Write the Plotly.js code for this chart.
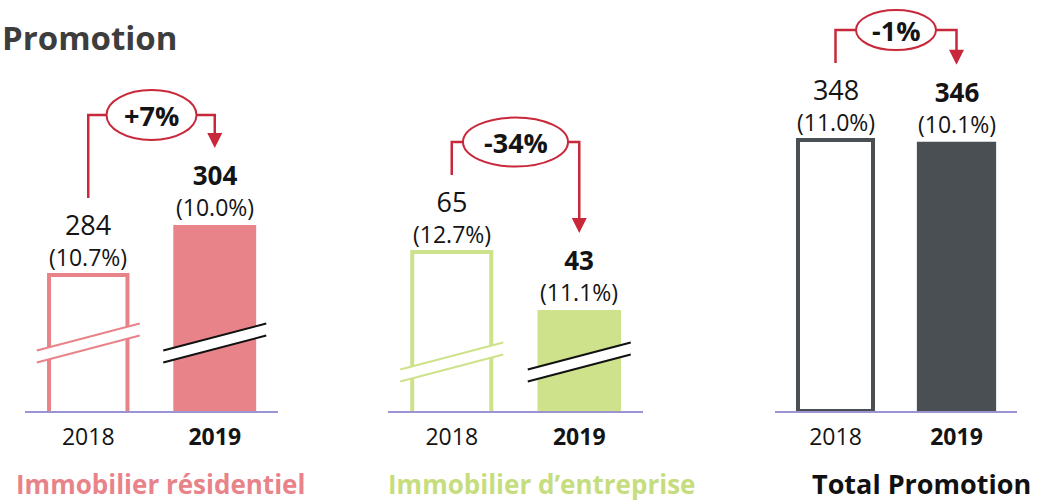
<!DOCTYPE html>
<html><head><meta charset="utf-8">
<script src="https://cdn.plot.ly/plotly-3.0.1.min.js"></script>
<style>html,body{margin:0;padding:0;background:#fff}#chart{width:1042px;height:503px}</style>
</head><body><div id="chart"></div>
<script>
// ---- data ----
const years = ['2018', '2019'];
const yearLabels = ['2018', '<b>2019</b>'];
const residentiel = [284, 304];
const residentielPct = ['(10.7%)', '(10.0%)'];
const entreprise = [65, 43];
const entreprisePct = ['(12.7%)', '(11.1%)'];
const totalPromotion = [348, 346];
const totalPct = ['(11.0%)', '(10.1%)'];
const changes = ['+7%', '-34%', '-1%'];
const panelNames = ['Immobilier résidentiel', 'Immobilier d’entreprise', 'Total Promotion'];
const mainTitle = 'Promotion';

// ---- styles / layout ----
const W = 1042, H = 503, MB = 92, PH = H - MB;
const RED = '#C8283A', AXIS = '#9A95D2', INK = '#141414';
const FONT = 'Open Sans, Noto Sans, sans-serif';
const panels = [
  {vals: residentiel, pcts: residentielPct, color: '#E8838A', titleColor: '#E8838A', titleSize: 26,
   dom: [25, 278], range: [229.6, 394], brk: 68, ell: [90, 50], titleX: 160},
  {vals: entreprise, pcts: entreprisePct, color: '#CDE28A', titleColor: '#C6DD7E', titleSize: 26,
   dom: [388, 643], range: [4.7, 160.6], brk: 49, ell: [105, 49], titleX: 541.5},
  {vals: totalPromotion, pcts: totalPct, color: '#4A4F53', titleColor: '#111111', titleSize: 27,
   dom: [775, 1017], range: [0, 528], brk: null, ell: [80, 40], titleX: 921.5}
];

const traces = [], shapes = [], annotations = [];
const layout = {
  width: W, height: H, margin: {l: 0, r: 0, t: 0, b: MB},
  paper_bgcolor: '#fff', plot_bgcolor: 'rgba(0,0,0,0)', showlegend: false,
  font: {family: FONT, color: INK}
};

panels.forEach((p, i) => {
  const sfx = i ? String(i + 1) : '';
  const xr = 'x' + sfx, yr = 'y' + sfx;
  layout['xaxis' + sfx] = {
    domain: [p.dom[0] / W, p.dom[1] / W], anchor: yr, type: 'category',
    range: [-0.5, 1.5], showline: true, linecolor: AXIS, linewidth: 2,
    ticks: '', tickmode: 'array', tickvals: years, ticktext: yearLabels,
    ticklabelstandoff: 4,
    tickfont: {family: FONT, size: 23, color: INK}, showgrid: false, zeroline: false,
    fixedrange: true
  };
  layout['yaxis' + sfx] = {
    domain: [0, 1], anchor: xr, range: p.range, visible: false,
    showgrid: false, zeroline: false, fixedrange: true
  };
  traces.push({
    type: 'bar', x: years, y: p.vals,
    xaxis: xr, yaxis: yr, width: [0.62, 0.655],
    marker: {color: ['#ffffff', p.color], line: {color: p.color, width: [4, 0]}},
    hoverinfo: 'skip'
  });

  const ppu = PH / (p.range[1] - p.range[0]);
  const catPx = (p.dom[1] - p.dom[0]) / 2;
  const Y = (v, d) => v + d / ppu;
  const X = (c, d) => c + d / catPx;
  const v0 = p.vals[0], v1 = p.vals[1];

  // value labels (value + share on two lines)
  p.vals.forEach((v, c) => {
    const num = c ? '<b>' + v + '</b>' : String(v);
    annotations.push({xref: xr, yref: yr, x: c, y: v, yanchor: 'bottom', yshift: 0,
      text: `<span style="font-size:${c ? 26 : 27}px">${num}</span><br>` +
            `<span style="font-size:23px">${p.pcts[c]}</span>`,
      showarrow: false, font: {family: FONT, size: 24, color: INK}});
  });

  // change connector
  const lev = Y(Math.max(v0, v1), 110);
  const eh = p.ell[0] / 2, ev = p.ell[1] / 2;
  const ln = {color: RED, width: 2.5};
  shapes.push({type: 'path', xref: xr, yref: yr, line: ln,
    path: `M 0,${Y(v0, 77)} L 0,${lev} L ${X(0.5, -eh)},${lev}`});
  shapes.push({type: 'path', xref: xr, yref: yr, line: ln,
    path: `M ${X(0.5, eh)},${lev} L 1,${lev} L 1,${Y(v1, 91)}`});
  shapes.push({type: 'path', xref: xr, yref: yr, line: {width: 0}, fillcolor: RED,
    path: `M ${X(1, -7.5)},${Y(v1, 92)} L ${X(1, 7.5)},${Y(v1, 92)} L 1,${Y(v1, 77)} Z`});
  shapes.push({type: 'circle', xref: xr, yref: yr, line: {color: RED, width: 2}, fillcolor: '#fff',
    x0: X(0.5, -eh), x1: X(0.5, eh), y0: lev - ev / ppu, y1: lev + ev / ppu});
  annotations.push({xref: xr, yref: yr, x: 0.5, y: lev, yanchor: 'middle',
    text: '<b>' + changes[i] + '</b>', showarrow: false,
    font: {family: FONT, size: 27, color: INK}});

  // axis break marks
  if (p.brk !== null) {
    const mid = p.range[0] + p.brk / ppu;
    [0, 1].forEach(c => {
      const pts = [[-51.5, -7.5], [51.5, 19.5], [51.5, 7.5], [-51.5, -19.5]];
      const P = pts.map(q => `${X(c, q[0])},${Y(mid, q[1])}`);
      shapes.push({type: 'path', xref: xr, yref: yr, line: {width: 0}, fillcolor: '#fff',
        path: `M ${P[0]} L ${P[1]} L ${P[2]} L ${P[3]} Z`});
      const lc = {color: c ? '#111' : p.color, width: 2};
      shapes.push({type: 'path', xref: xr, yref: yr, line: lc, path: `M ${P[0]} L ${P[1]}`});
      shapes.push({type: 'path', xref: xr, yref: yr, line: lc, path: `M ${P[3]} L ${P[2]}`});
    });
  }

  // panel title
  annotations.push({xref: 'paper', yref: 'paper', x: p.titleX / W, y: (PH - 484) / PH,
    xanchor: 'center', yanchor: 'middle', text: '<b>' + panelNames[i] + '</b>',
    showarrow: false, font: {family: FONT, size: p.titleSize, color: p.titleColor}});
});

annotations.push({xref: 'paper', yref: 'paper', x: 0, y: (PH - 37) / PH, xanchor: 'left',
  yanchor: 'middle', xshift: 0, text: '<b>' + mainTitle + '</b>', showarrow: false,
  font: {family: FONT, size: 33, color: '#3D3D3D'}});

layout.shapes = shapes;
layout.annotations = annotations;
Plotly.newPlot('chart', traces, layout, {displayModeBar: false, staticPlot: true});
</script>
</body></html>
